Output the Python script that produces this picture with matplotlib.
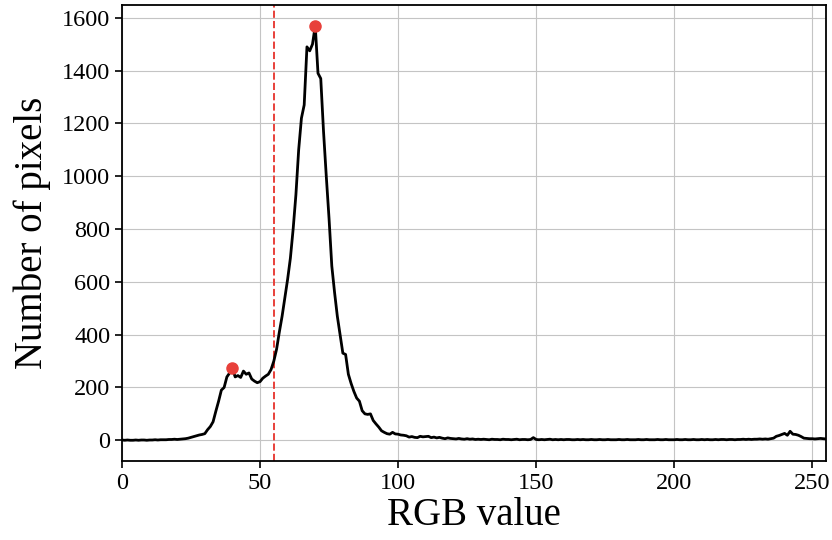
import matplotlib
matplotlib.use('Agg')
import matplotlib.pyplot as plt
import numpy as np

# 直方图数据 (RGB 0-255)
counts_0_19 = [1, 0, 1, 0, 0, 1, 0, 1, 1, 0, 1, 1, 2, 1, 2, 2, 2, 3, 3, 4]
counts_20_59 = [3, 4, 5, 6, 8, 11, 14, 17, 20, 22,
                25, 40, 52, 70, 110, 148, 190, 200, 240, 255,
                272, 240, 245, 238, 262, 250, 255, 232, 224, 218,
                222, 235, 243, 250, 268, 300, 345, 410, 470, 540]
counts_60_99 = [610, 690, 800, 930, 1100, 1220, 1270, 1490, 1475, 1500,
                1570, 1390, 1370, 1170, 1000, 840, 660, 560, 470, 400,
                330, 325, 250, 215, 185, 160, 148, 112, 100, 98,
                100, 75, 62, 50, 36, 30, 25, 23, 30, 24]
counts_100_149 = [23, 20, 19, 17, 12, 14, 11, 10, 15, 13,
                  14, 15, 10, 12, 9, 11, 8, 6, 9, 7,
                  6, 5, 7, 5, 4, 6, 4, 5, 3, 4,
                  3, 4, 3, 2, 4, 3, 3, 2, 4, 3,
                  3, 2, 3, 4, 2, 3, 3, 2, 3, 10]
counts_150_199 = [3, 2, 3, 2, 3, 4, 2, 3, 2, 3,
                  2, 3, 3, 2, 2, 3, 2, 3, 2, 2,
                  3, 2, 2, 3, 2, 2, 3, 2, 2, 2,
                  3, 2, 2, 3, 2, 2, 2, 3, 2, 2,
                  3, 2, 2, 2, 3, 2, 2, 3, 2, 2]
counts_200_255 = [2, 3, 2, 2, 3, 2, 2, 3, 2, 2,
                  3, 2, 3, 2, 2, 3, 2, 3, 3, 2,
                  3, 3, 2, 3, 3, 4, 3, 4, 3, 4,
                  4, 5, 4, 5, 4, 6, 8, 15, 18, 22,
                  26, 19, 34, 23, 22, 19, 14, 8, 7, 6,
                  6, 5, 6, 7, 6, 5]
counts = counts_0_19 + counts_20_59 + counts_60_99 + counts_100_149 + counts_150_199 + counts_200_255
rgb = np.arange(len(counts))

# 峰值与阈值
peak_x = [40, 70]
peak_y = [272, 1570]
threshold = 55

plt.rcParams['font.family'] = ['Liberation Serif', 'DejaVu Serif']

fig = plt.figure(figsize=(8.32, 5.4), dpi=100)
ax = fig.add_axes([0.1466, 0.1463, 0.8462, 0.8444])
ax.plot(rgb, counts, color='black', linewidth=2, zorder=3)
ax.plot(peak_x, peak_y, 'o', color='#e8403a', markersize=8, zorder=4)
ax.axvline(threshold, color='#e8403a', linestyle='--', linewidth=1.4, zorder=2)

ax.set_xlim(0, 255)
ax.set_ylim(-78.5, 1648.5)
ax.set_xticks([0, 50, 100, 150, 200, 250])
ax.set_yticks(range(0, 1601, 200))
ax.tick_params(labelsize=17.5, length=5, width=1.2)
for sp in ax.spines.values():
    sp.set_linewidth(1.3)
ax.grid(True, color='#c4c4c4', linewidth=0.8)
ax.set_axisbelow(True)
ax.set_xlabel('RGB value', fontsize=28, labelpad=2)
ax.set_ylabel('Number of pixels', fontsize=28, labelpad=8)

plt.savefig('out.png', dpi=100)
